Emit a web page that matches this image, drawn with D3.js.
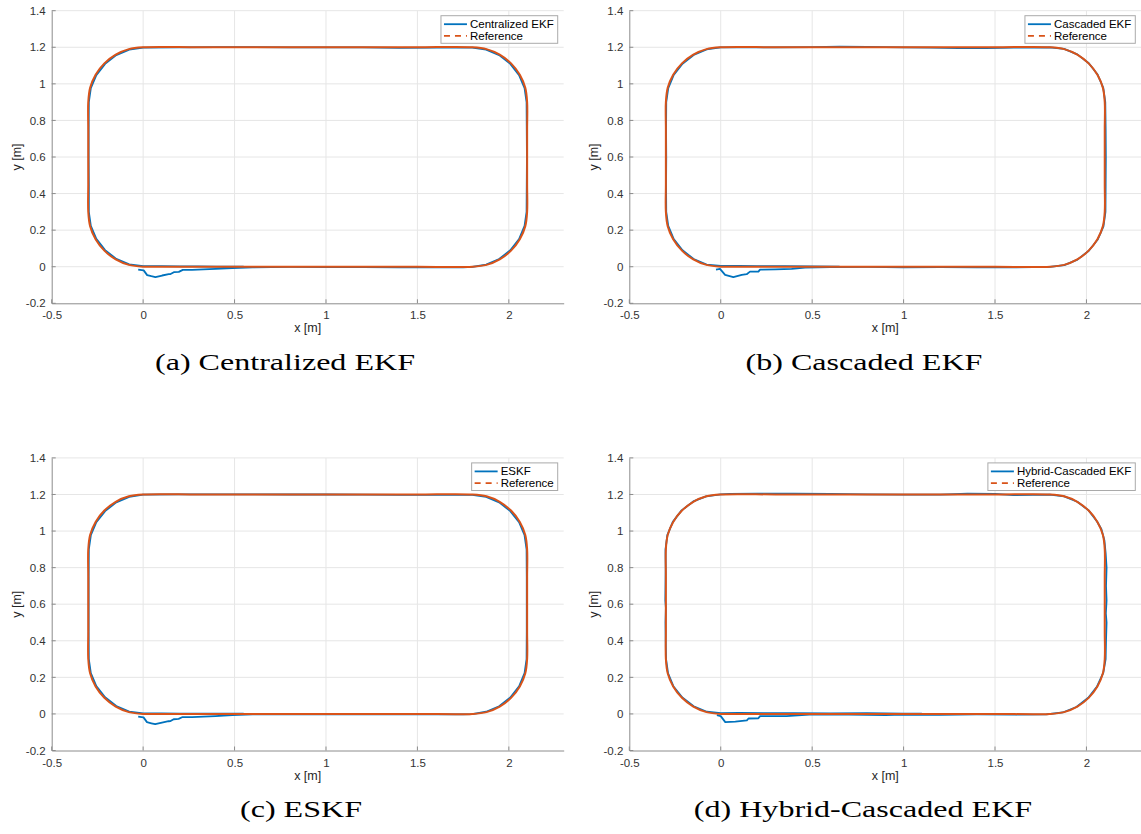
<!DOCTYPE html>
<html><head><meta charset="utf-8">
<script src="https://cdn.jsdelivr.net/npm/d3@7"></script>
<style>html,body{margin:0;padding:0;background:#fff;}svg{display:block;}</style>
</head><body>
<svg id="c" width="1141" height="834"></svg>
<script>
// ---------- data ----------
const xTicks = [-0.5, 0, 0.5, 1, 1.5, 2];
const yTicks = [-0.2, 0, 0.2, 0.4, 0.6, 0.8, 1, 1.2, 1.4];
const xDomain = [-0.5, 2.3];
const yDomain = [-0.2, 1.4];
const seriesNames = ["Centralized EKF", "Cascaded EKF", "ESKF", "Hybrid-Cascaded EKF"];
const captions = ["(a) Centralized EKF", "(b) Cascaded EKF", "(c) ESKF", "(d) Hybrid-Cascaded EKF"];
const refName = "Reference";

const refPath = [
  [0,0],[0.3,0],[0.6,0],[0.9,0],[1.2,0],[1.5,0],[1.8,0],
  [1.878,0.010],[1.950,0.040],[2.012,0.088],[2.060,0.150],[2.090,0.222],[2.1,0.3],
  [2.1,0.45],[2.1,0.6],[2.1,0.75],[2.1,0.9],
  [2.090,0.978],[2.060,1.050],[2.012,1.112],[1.950,1.160],[1.878,1.190],[1.8,1.2],
  [1.5,1.2],[1.2,1.2],[0.9,1.2],[0.6,1.2],[0.3,1.2],[0,1.2],
  [-0.078,1.190],[-0.150,1.160],[-0.212,1.112],[-0.260,1.050],[-0.290,0.978],[-0.3,0.9],
  [-0.3,0.75],[-0.3,0.6],[-0.3,0.45],[-0.3,0.3],
  [-0.290,0.222],[-0.260,0.150],[-0.212,0.088],[-0.150,0.040],[-0.078,0.010],[0,0]
];

const estCentralized = [
  [-0.027,-0.016],[0.003,-0.020],[0.022,-0.046],[0.045,-0.052],[0.067,-0.057],[0.104,-0.048],
  [0.140,-0.041],[0.150,-0.040],[0.168,-0.030],[0.195,-0.028],[0.217,-0.017],[0.268,-0.017],
  [0.330,-0.015],[0.396,-0.012],[0.487,-0.007],[0.600,-0.003],[0.800,-0.001],[1.000,-0.002],
  [1.200,-0.002],[1.400,-0.003],[1.600,-0.004],[1.750,-0.003],[1.800,-0.001],
  [1.876,0.012],[1.947,0.042],[2.008,0.090],[2.056,0.151],[2.086,0.223],[2.097,0.300],
  [2.098,0.450],[2.099,0.600],[2.098,0.750],[2.097,0.900],
  [2.086,0.977],[2.056,1.048],[2.008,1.109],[1.947,1.157],[1.876,1.187],[1.800,1.198],
  [1.600,1.198],[1.400,1.197],[1.200,1.199],[1.000,1.200],[0.800,1.200],[0.600,1.201],
  [0.400,1.201],[0.200,1.200],[0.000,1.198],
  [-0.076,1.187],[-0.147,1.157],[-0.208,1.109],[-0.256,1.048],[-0.286,0.977],[-0.297,0.900],
  [-0.298,0.750],[-0.298,0.600],[-0.297,0.450],[-0.297,0.300],
  [-0.286,0.223],[-0.256,0.152],[-0.208,0.091],[-0.147,0.043],[-0.076,0.013],[0.000,0.003],
  [0.100,0.003],[0.200,0.002],[0.300,0.002],[0.400,0.001],[0.550,0.001]
];

const estCascaded = [
  [-0.026,-0.016],[-0.004,-0.012],[0.024,-0.045],[0.069,-0.057],[0.115,-0.045],[0.142,-0.041],
  [0.160,-0.027],[0.206,-0.027],[0.215,-0.016],[0.300,-0.014],[0.388,-0.012],[0.461,-0.005],
  [0.600,-0.002],[0.800,-0.001],[1.000,-0.003],[1.200,-0.002],[1.400,-0.004],[1.600,-0.003],
  [1.800,-0.001],
  [1.879,0.009],[1.951,0.039],[2.013,0.087],[2.062,0.149],[2.093,0.221],[2.104,0.300],
  [2.105,0.450],[2.106,0.600],[2.105,0.750],[2.103,0.900],
  [2.092,0.978],[2.061,1.051],[2.013,1.113],[1.950,1.161],[1.878,1.191],[1.800,1.200],
  [1.600,1.198],[1.450,1.196],[1.300,1.195],[1.150,1.198],[1.000,1.199],[0.800,1.202],
  [0.650,1.203],[0.500,1.201],[0.300,1.200],[0.000,1.199],
  [-0.077,1.188],[-0.148,1.158],[-0.209,1.110],[-0.257,1.049],[-0.287,0.977],[-0.298,0.900],
  [-0.299,0.750],[-0.298,0.600],[-0.299,0.450],[-0.298,0.300],
  [-0.287,0.223],[-0.257,0.151],[-0.209,0.090],[-0.148,0.042],[-0.077,0.012],[0.000,0.004],
  [0.100,0.004],[0.200,0.003],[0.350,0.003],[0.500,0.002],[0.650,0.001]
];

const estESKF = [
  [-0.027,-0.015],[0.002,-0.019],[0.021,-0.045],[0.045,-0.051],[0.066,-0.056],[0.103,-0.047],
  [0.139,-0.040],[0.150,-0.039],[0.167,-0.029],[0.194,-0.027],[0.216,-0.017],[0.268,-0.017],
  [0.330,-0.015],[0.396,-0.012],[0.487,-0.006],[0.600,-0.003],[0.800,-0.002],[1.000,-0.002],
  [1.200,-0.003],[1.400,-0.003],[1.600,-0.003],[1.750,-0.002],[1.800,-0.001],
  [1.876,0.012],[1.947,0.042],[2.008,0.090],[2.056,0.151],[2.086,0.223],[2.097,0.300],
  [2.098,0.450],[2.098,0.600],[2.098,0.750],[2.097,0.900],
  [2.086,0.977],[2.056,1.048],[2.008,1.109],[1.947,1.157],[1.876,1.187],[1.800,1.198],
  [1.600,1.198],[1.400,1.198],[1.200,1.199],[1.000,1.200],[0.800,1.200],[0.600,1.201],
  [0.400,1.201],[0.200,1.201],[0.000,1.199],
  [-0.076,1.187],[-0.147,1.157],[-0.208,1.109],[-0.256,1.048],[-0.286,0.977],[-0.297,0.900],
  [-0.298,0.750],[-0.298,0.600],[-0.298,0.450],[-0.297,0.300],
  [-0.286,0.223],[-0.256,0.152],[-0.208,0.091],[-0.147,0.043],[-0.076,0.013],[0.000,0.003],
  [0.100,0.003],[0.200,0.002],[0.300,0.002],[0.400,0.001],[0.550,0.001]
];

const estHybrid = [
  [-0.021,-0.006],[0.000,-0.012],[0.025,-0.045],[0.080,-0.042],[0.143,-0.035],[0.152,-0.025],
  [0.206,-0.024],[0.215,-0.012],[0.360,-0.012],[0.505,-0.002],[0.700,-0.004],[0.900,-0.006],
  [1.000,-0.004],[1.200,-0.005],[1.400,-0.003],[1.600,-0.004],[1.780,-0.002],
  [1.870,0.008],[1.945,0.038],[2.010,0.088],[2.058,0.150],[2.092,0.225],[2.105,0.300],
  [2.107,0.400],[2.110,0.500],[2.106,0.550],[2.110,0.620],[2.107,0.700],[2.110,0.800],
  [2.105,0.880],[2.098,0.950],
  [2.082,1.010],[2.058,1.052],[2.012,1.113],[1.950,1.160],[1.878,1.190],[1.800,1.199],
  [1.600,1.197],[1.500,1.203],[1.350,1.204],[1.200,1.199],[1.000,1.199],[0.800,1.201],
  [0.600,1.203],[0.400,1.205],[0.200,1.205],[0.050,1.203],[0.000,1.200],
  [-0.080,1.190],[-0.150,1.162],[-0.214,1.113],[-0.262,1.050],[-0.292,0.978],[-0.302,0.900],
  [-0.301,0.800],[-0.302,0.700],[-0.303,0.620],[-0.300,0.580],[-0.302,0.500],[-0.301,0.400],
  [-0.299,0.300],
  [-0.288,0.222],[-0.258,0.150],[-0.210,0.090],[-0.148,0.042],[-0.076,0.012],[0.000,0.004],
  [0.100,0.005],[0.250,0.004],[0.400,0.004],[0.600,0.003],[0.800,0.004],[1.000,0.002],[1.100,0.002]
];

const estimates = [estCentralized, estCascaded, estESKF, estHybrid];

// ---------- layout ----------
const panels = [
  {left: 51.7,  top: 10.7,  capX: 285, capY: 369.5},
  {left: 629.3, top: 10.7,  capX: 864, capY: 369.5},
  {left: 51.7,  top: 457.9, capX: 301, capY: 817},
  {left: 629.3, top: 457.9, capX: 863, capY: 817}
];
const plotW = 512, plotH = 292.6;
const capRefWidth = 260; // measured width of caption (a)
const blue = "#0072BD", orange = "#D95319";
const sans = "'Liberation Sans', Arial, Helvetica, sans-serif";
const serif = "'Liberation Serif', 'Times New Roman', serif";

const svg = d3.select("#c");

// uniform horizontal stretch for captions, derived from caption (a)
const probe = svg.append("text").attr("font-family", serif).attr("font-size", 23).text(captions[0]);
const capStretch = capRefWidth / probe.node().getComputedTextLength();
probe.remove();

panels.forEach((p, i) => {
  const x = d3.scaleLinear().domain(xDomain).range([p.left, p.left + plotW]);
  const y = d3.scaleLinear().domain(yDomain).range([p.top + plotH, p.top]);
  const g = svg.append("g");

  // grid
  g.append("g").selectAll("line").data(xTicks.slice(1)).join("line")
    .attr("x1", d => x(d)).attr("x2", d => x(d))
    .attr("y1", y(yDomain[0])).attr("y2", y(yDomain[1]))
    .attr("stroke", "#e6e6e6").attr("stroke-width", 1);
  g.append("g").selectAll("line").data(yTicks.slice(1)).join("line")
    .attr("x1", x(xDomain[0])).attr("x2", x(xDomain[1]))
    .attr("y1", d => y(d)).attr("y2", d => y(d))
    .attr("stroke", "#e6e6e6").attr("stroke-width", 1);

  // axes
  const xAxis = d3.axisBottom(x).tickValues(xTicks).tickSize(0).tickPadding(8)
    .tickFormat(d => String(d));
  const yAxis = d3.axisLeft(y).tickValues(yTicks).tickSize(0).tickPadding(6)
    .tickFormat(d => String(d));
  const gx = g.append("g").attr("transform", `translate(0,${y(yDomain[0])})`).call(xAxis);
  const gy = g.append("g").attr("transform", `translate(${x(xDomain[0])},0)`).call(yAxis);
  [gx, gy].forEach(ax => {
    ax.select(".domain").attr("stroke", "#8c8c8c");
    ax.selectAll("text").attr("font-family", sans).attr("font-size", 11.5).attr("fill", "#333");
  });
  // inward ticks
  g.append("g").selectAll("line").data(xTicks).join("line")
    .attr("x1", d => x(d)).attr("x2", d => x(d))
    .attr("y1", y(yDomain[0])).attr("y2", y(yDomain[0]) - 4)
    .attr("stroke", "#8c8c8c");
  g.append("g").selectAll("line").data(yTicks).join("line")
    .attr("x1", x(xDomain[0])).attr("x2", x(xDomain[0]) + 4)
    .attr("y1", d => y(d)).attr("y2", d => y(d))
    .attr("stroke", "#8c8c8c");

  // axis labels
  g.append("text").attr("x", p.left + plotW / 2).attr("y", y(yDomain[0]) + 29)
    .attr("text-anchor", "middle").attr("font-family", sans).attr("font-size", 12.5)
    .attr("fill", "#262626").text("x [m]");
  g.append("text")
    .attr("transform", `translate(${p.left - 31},${p.top + plotH / 2}) rotate(-90)`)
    .attr("text-anchor", "middle").attr("font-family", sans).attr("font-size", 12.5)
    .attr("fill", "#262626").text("y [m]");

  // lines
  const line = d3.line().x(d => x(d[0])).y(d => y(d[1]));
  const smooth = d3.line().x(d => x(d[0])).y(d => y(d[1])).curve(d3.curveCatmullRom.alpha(0.5));
  g.append("path").datum(estimates[i]).attr("d", line)
    .attr("fill", "none").attr("stroke", blue).attr("stroke-width", 1.8)
    .attr("stroke-linejoin", "round");
  g.append("path").datum(refPath).attr("d", smooth)
    .attr("fill", "none").attr("stroke", orange).attr("stroke-width", 2);

  // legend
  const lg = g.append("g");
  const t1 = lg.append("text").attr("font-family", sans).attr("font-size", 11.5)
    .attr("fill", "#000").text(seriesNames[i]);
  const t2 = lg.append("text").attr("font-family", sans).attr("font-size", 11.5)
    .attr("fill", "#000").text(refName);
  const tw = Math.max(t1.node().getComputedTextLength(), t2.node().getComputedTextLength());
  const boxW = 29 + tw + 4, boxH = 27.6;
  const bx = p.left + plotW - 6 - boxW, by = p.top + 5;
  lg.insert("rect", "text").attr("x", bx).attr("y", by).attr("width", boxW).attr("height", boxH)
    .attr("fill", "#fff").attr("stroke", "#aaaaaa").attr("stroke-width", 1);
  t1.attr("x", bx + 29).attr("y", by + 12.3);
  t2.attr("x", bx + 29).attr("y", by + 24);
  lg.append("line").attr("x1", bx + 3).attr("x2", bx + 26).attr("y1", by + 8.5).attr("y2", by + 8.5)
    .attr("stroke", blue).attr("stroke-width", 1.8);
  lg.append("line").attr("x1", bx + 3).attr("x2", bx + 26).attr("y1", by + 20.2).attr("y2", by + 20.2)
    .attr("stroke", orange).attr("stroke-width", 1.8).attr("stroke-dasharray", "6,5");

  // caption
  const cap = svg.append("text").attr("x", p.capX).attr("y", p.capY).attr("text-anchor", "middle")
    .attr("font-family", serif).attr("font-size", 23)
    .attr("fill", "#000").text(captions[i]);
  const nat = cap.node().getComputedTextLength();
  cap.attr("textLength", nat * capStretch).attr("lengthAdjust", "spacingAndGlyphs");
});
</script>
</body></html>
